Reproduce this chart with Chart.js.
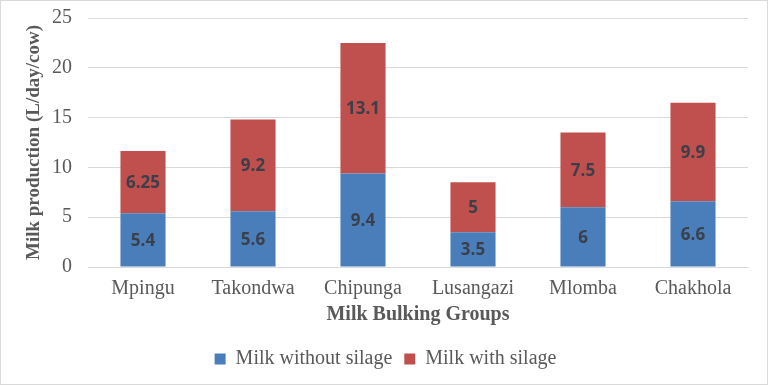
<!DOCTYPE html>
<html lang="en">
<head>
<meta charset="UTF-8">
<script src="https://cdn.jsdelivr.net/npm/chart.js"></script>
<title>Milk production</title>
<style>
  html, body { margin: 0; padding: 0; background: #fff; }
  .janela { width: 766px; height: 383px; border: 1px solid #d9d9d9; position: relative; }
</style>
</head>
<body>
<div class="janela">
  <canvas id="Barra" width="766" height="383"></canvas>
</div>

<script>
const groups = ['Mpingu', 'Takondwa', 'Chipunga', 'Lusangazi', 'Mlomba', 'Chakhola'];
const withoutSilage = [5.4, 5.6, 9.4, 3.5, 6, 6.6];
const withSilage = [6.25, 9.2, 13.1, 5, 7.5, 9.9];
const yTicks = [0, 5, 10, 15, 20, 25];

const serif = '"Liberation Serif", "Times New Roman", serif';
Chart.defaults.font.family = serif;
Chart.defaults.color = '#595959';

// labels inside each bar segment
const segLabels = {
  id: 'segLabels',
  afterDatasetsDraw(chart) {
    const ctx = chart.ctx;
    ctx.save();
    ctx.font = 'bold 17px "Open Sans", "DejaVu Sans", sans-serif';
    ctx.fillStyle = '#3a3f4a';
    ctx.textAlign = 'center';
    ctx.textBaseline = 'middle';
    chart.data.datasets.forEach(function (ds, i) {
      chart.getDatasetMeta(i).data.forEach(function (bar, j) {
        const mid = (bar.y + bar.base) / 2;
        ctx.fillText(String(ds.data[j]), bar.x, mid + 1);
      });
    });
    ctx.restore();
  }
};

const config = {
  type: 'bar',
  data: {
    labels: groups,
    datasets: [{
      label: 'Milk without silage',
      backgroundColor: '#4a7ebb',
      data: withoutSilage,
    }, {
      label: 'Milk with silage',
      backgroundColor: '#c0504d',
      data: withSilage,
    }]
  },
  options: {
    responsive: false,
    animation: false,
    layout: { padding: { left: 22, right: 19, top: 17, bottom: 5 } },
    datasets: { bar: { categoryPercentage: 1, barPercentage: 0.41 } },
    plugins: {
      legend: {
        position: 'bottom',
        labels: {
          boxWidth: 11, boxHeight: 11, padding: 12,
          color: '#595959',
          font: { family: serif, size: 20 }
        }
      },
      tooltip: { enabled: false }
    },
    scales: {
      x: {
        stacked: true,
        grid: { display: false },
        border: { color: '#d9d9d9' },
        ticks: { color: '#595959', font: { family: serif, size: 20 }, padding: 2 },
        title: {
          display: true, text: 'Milk Bulking Groups', color: '#595959',
          font: { family: serif, size: 20, weight: 'bold' }, padding: { top: 0, bottom: 10 }
        }
      },
      y: {
        stacked: true,
        min: 0, max: 25,
        afterBuildTicks: function (axis) { axis.ticks = yTicks.map(v => ({ value: v })); },
        afterFit: function (axis) {
          axis.width = 65;
          axis.paddingTop = 0;
          axis.paddingBottom = 0;
        },
        grid: { color: '#d9d9d9', drawTicks: false },
        border: { display: false },
        ticks: { color: '#595959', font: { family: serif, size: 20 }, padding: 16 },
        title: {
          display: true, text: 'Milk production (L/day/cow)', color: '#595959',
          font: { family: serif, size: 19, weight: 'bold' }, padding: { top: 0, bottom: 0 }
        }
      }
    }
  },
  plugins: [segLabels]
};

const Barra = new Chart(document.getElementById('Barra'), config);
</script>
</body>
</html>
